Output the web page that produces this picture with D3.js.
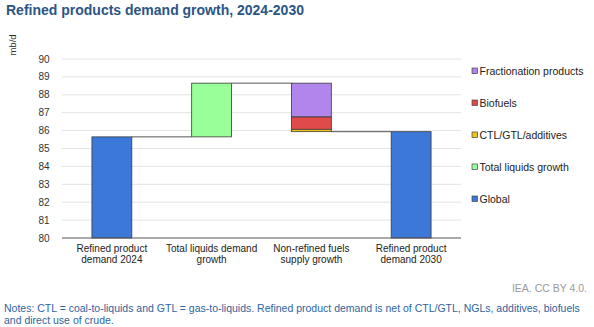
<!DOCTYPE html>
<html>
<head>
<meta charset="utf-8">
<script src="https://cdn.jsdelivr.net/npm/d3@7"></script>
<style>
  body { margin: 0; background: #fff; font-family: "Liberation Sans", Arial, sans-serif; }
  svg text { font-family: "Liberation Sans", Arial, sans-serif; }
</style>
</head>
<body>
<div id="chart"></div>
<script>
// Waterfall: 2024 demand, liquids growth, non-refined supply growth, 2030 demand
const categories = [
  ["Refined product", "demand 2024"],
  ["Total liquids demand", "growth"],
  ["Non-refined fuels", "supply growth"],
  ["Refined product", "demand 2030"]
];
const demand2024 = 85.65;
const liquidsGrowth = 3.0;
// non-refined supply pieces, stacked down from the growth top
const nonRefined = [
  { key: "Fractionation products", value: 1.89 },
  { key: "Biofuels", value: 0.69 },
  { key: "CTL/GTL/additives", value: 0.13 }
];
const yTicks = [80, 81, 82, 83, 84, 85, 86, 87, 88, 89, 90];

const legendItems = ["Fractionation products", "Biofuels", "CTL/GTL/additives", "Total liquids growth", "Global"];
const colors = {
  "Fractionation products": "#b085ec",
  "Biofuels": "#e14a4a",
  "CTL/GTL/additives": "#f2c21f",
  "Total liquids growth": "#99ff99",
  "Global": "#3c78d8"
};

const width = 594, height = 327;
const margin = { left: 62, right: 133, top: 59, bottom: 89 };

const svg = d3.select("#chart").append("svg")
  .attr("width", width)
  .attr("height", height);

svg.append("text")
  .attr("x", 6).attr("y", 15)
  .attr("font-size", 14).attr("font-weight", "bold")
  .attr("fill", "#2b5585")
  .text("Refined products demand growth, 2024-2030");

const x = d3.scaleBand()
  .domain(d3.range(categories.length))
  .range([margin.left, width - margin.right])
  .paddingInner(0.6).paddingOuter(0.3);

const y = d3.scaleLinear()
  .domain([80, 90])
  .range([height - margin.bottom, margin.top]);

// gridlines
svg.append("g").selectAll("line")
  .data(yTicks.slice(1))
  .join("line")
  .attr("x1", margin.left).attr("x2", width - margin.right)
  .attr("y1", d => y(d)).attr("y2", d => y(d))
  .attr("stroke", "#e3e3e3").attr("stroke-width", 1);

// y axis labels
svg.append("g").selectAll("text")
  .data(yTicks)
  .join("text")
  .attr("x", 49.5).attr("y", d => y(d))
  .attr("dy", "0.35em")
  .attr("text-anchor", "end")
  .attr("font-size", 10).attr("fill", "#333")
  .text(d => d);

svg.append("text")
  .attr("transform", "translate(16,45) rotate(-90)")
  .attr("text-anchor", "middle")
  .attr("font-size", 9.5).attr("fill", "#333")
  .text("mb/d");

// build segments
const liquidsTop = demand2024 + liquidsGrowth;
const segments = [];
segments.push({ i: 0, y0: 80, y1: demand2024, key: "Global" });
segments.push({ i: 1, y0: demand2024, y1: liquidsTop, key: "Total liquids growth" });
let level = liquidsTop;
nonRefined.forEach(p => {
  segments.push({ i: 2, y0: level - p.value, y1: level, key: p.key });
  level -= p.value;
});
const demand2030 = level;
segments.push({ i: 3, y0: 80, y1: demand2030, key: "Global" });

// connectors between bars
const connectors = [
  { from: 0, to: 1, v: demand2024 },
  { from: 1, to: 2, v: liquidsTop },
  { from: 2, to: 3, v: demand2030 }
];
svg.append("g").selectAll("line")
  .data(connectors)
  .join("line")
  .attr("x1", d => x(d.from) + x.bandwidth())
  .attr("x2", d => x(d.to))
  .attr("y1", d => y(d.v)).attr("y2", d => y(d.v))
  .attr("stroke", "#555").attr("stroke-width", 1);

svg.append("g").selectAll("rect")
  .data(segments)
  .join("rect")
  .attr("x", d => x(d.i))
  .attr("width", x.bandwidth())
  .attr("y", d => y(d.y1))
  .attr("height", d => y(d.y0) - y(d.y1))
  .attr("fill", d => colors[d.key])
  .attr("stroke", "#3a3a3a").attr("stroke-width", 0.8);

// baseline
svg.append("line")
  .attr("x1", margin.left).attr("x2", width - margin.right)
  .attr("y1", y(80)).attr("y2", y(80))
  .attr("stroke", "#555").attr("stroke-width", 1);

// category labels
const xl = svg.append("g").selectAll("text")
  .data(categories)
  .join("text")
  .attr("x", (d, i) => x(i) + x.bandwidth() / 2)
  .attr("y", 251.5)
  .attr("text-anchor", "middle")
  .attr("font-size", 10).attr("fill", "#222");
xl.each(function(d) {
  const t = d3.select(this);
  d.forEach((line, k) => {
    t.append("tspan")
      .attr("x", t.attr("x"))
      .attr("dy", k === 0 ? 0 : 11.7)
      .text(line);
  });
});

// legend
const lg = svg.append("g").selectAll("g")
  .data(legendItems)
  .join("g")
  .attr("transform", (d, i) => `translate(472,${71 + i * 32})`);
lg.append("rect")
  .attr("x", 0).attr("y", -3)
  .attr("width", 5.5).attr("height", 5.5)
  .attr("fill", d => colors[d])
  .attr("stroke", "#444").attr("stroke-width", 0.7);
lg.append("text")
  .attr("x", 7.5).attr("y", 0)
  .attr("dy", "0.35em")
  .attr("font-size", 10.5).attr("fill", "#222")
  .text(d => d);

svg.append("text")
  .attr("x", 587).attr("y", 292)
  .attr("text-anchor", "end")
  .attr("font-size", 10.5).attr("fill", "#9a9a9a")
  .text("IEA. CC BY 4.0.");

const notes = [
  "Notes: CTL = coal-to-liquids and GTL = gas-to-liquids. Refined product demand is net of CTL/GTL, NGLs, additives, biofuels",
  "and direct use of crude."
];
svg.append("g").selectAll("text")
  .data(notes)
  .join("text")
  .attr("x", 4).attr("y", (d, i) => 312 + i * 12)
  .attr("font-size", 10.5).attr("fill", "#2e64a0")
  .text(d => d);
</script>
</body>
</html>
